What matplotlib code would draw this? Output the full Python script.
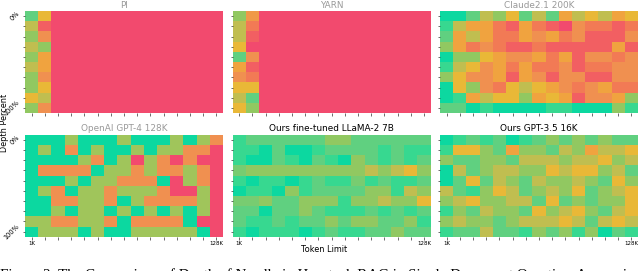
import numpy as np
from matplotlib import pyplot as plt
from matplotlib.colors import LinearSegmentedColormap

# score de cada celda (0 rojo ... 10 verde azulado), filas = profundidad, columnas = tokens
pi_tail = [0] * 13
pi_scores = [
    [8, 5] + pi_tail,
    [6, 1] + pi_tail,
    [7, 3] + pi_tail,
    [6, 7] + pi_tail,
    [7, 4] + pi_tail,
    [6, 4] + pi_tail,
    [7, 3] + pi_tail,
    [7, 5] + pi_tail,
    [5, 6] + pi_tail,
    [7, 3] + pi_tail,
]
yarn_scores = [
    [7, 3.5] + pi_tail,
    [6, 2] + pi_tail,
    [6, 1] + pi_tail,
    [5, 0] + pi_tail,
    [8, 3] + pi_tail,
    [4, 1] + pi_tail,
    [3, 2] + pi_tail,
    [5, 5] + pi_tail,
    [6, 8] + pi_tail,
    [5, 7] + pi_tail,
]
claude_scores = [
    [10, 10, 8, 6, 7, 5, 8, 6, 8, 4, 6, 5, 6, 4, 5],
    [9, 6, 4, 4, 2, 1, 4, 2, 1, 0, 3, 2, 2, 1, 2],
    [8, 4, 6, 4, 2, 2, 4, 3, 4, 2, 3, 1, 1, 1, 3],
    [7, 4, 2, 3, 2, 1, 1, 2, 1, 1, 1, 1, 1, 4, 1],
    [10, 7, 7, 5, 4, 3, 3, 4, 2, 4, 1, 3, 3, 2, 3],
    [9, 6, 5, 3, 4, 2, 4, 2, 2, 3, 1, 2, 2, 3, 3],
    [7, 5, 3, 3, 4, 1, 4, 3, 1, 3, 3, 1, 1, 3, 3],
    [10, 5, 7, 3, 2, 5, 6, 5, 4, 3, 2, 3, 4, 2, 2],
    [10, 9, 4, 6, 5, 5, 7, 4, 5, 4, 1, 3, 3, 4, 7],
    [8, 8, 10, 9, 10, 10, 10, 10, 9, 9, 10, 10, 10, 7, 9],
]
gpt4_scores = [
    [10, 10, 10, 6.7, 10, 10, 10, 6.7, 10, 10, 10, 6.7, 10, 6.7, 3],
    [10, 6.7, 10, 3, 10, 6.7, 10, 10, 6.7, 10, 6.7, 6.7, 3, 3, 0],
    [10, 10, 10, 10, 6.7, 3, 10, 6.7, 0, 6.7, 3, 0, 3, 0, 0],
    [10, 3, 3, 3, 3, 10, 6.7, 6.7, 3, 6.7, 3, 3, 6.7, 3, 0],
    [10, 10, 10, 6.7, 10, 6.7, 6.7, 3, 3, 3, 10, 0, 6.7, 3, 0],
    [10, 6.7, 3, 10, 6.7, 6.7, 3, 6.7, 6.7, 6.7, 3, 0, 0, 6.7, 0],
    [10, 10, 3, 3, 6.7, 6.7, 3, 10, 6.7, 3, 3, 3, 3, 6.7, 0],
    [10, 10, 6.7, 10, 6.7, 6.7, 10, 6.7, 10, 6.7, 10, 6.7, 10, 6.7, 0],
    [6.7, 6.7, 3, 3, 6.7, 6.7, 3, 10, 3, 3, 3, 3, 10, 0, 0],
    [10, 6.7, 6.7, 6.7, 10, 6.7, 10, 10, 6.7, 6.7, 6.7, 6.7, 6.7, 10, 0],
]
llama_scores = [
    [9, 8, 8, 8, 8, 8, 8, 7, 7, 8, 8, 8, 8, 8, 8],
    [9, 9, 10, 8, 10, 10, 9, 8, 8, 8, 8, 9, 8, 9, 9],
    [9, 10, 10, 8, 9, 10, 8, 9, 10, 7, 8, 9, 8, 9, 8],
    [7.5, 7, 7, 7, 7, 7, 7, 7, 7, 7, 6, 7, 6, 5, 7],
    [9, 10, 9, 9, 10, 9, 8, 9, 9, 7.5, 9, 8, 9, 9, 8],
    [10, 9, 9, 10, 7, 9, 8, 8, 8, 8, 7, 7, 9, 6, 7],
    [7.5, 7.5, 7, 8, 8, 7, 7, 7, 9, 7, 7, 6, 7, 7, 5],
    [8, 8, 10, 8, 8, 7, 8, 9, 9, 9, 8, 9, 8, 9, 8],
    [8, 9, 9, 8, 9, 8, 8, 7, 8, 7, 7, 8, 8, 7, 9],
    [9, 10, 9, 9, 9, 10, 9, 8, 9, 9, 8, 8, 7, 8, 8],
]
gpt35_scores = [
    [10, 9, 8, 9, 8, 10, 9, 8, 7, 8, 7, 8, 7, 8, 8],
    [9, 5, 5, 7, 8, 4, 7, 7, 8, 6, 7, 4, 6, 6, 5],
    [7, 8, 8, 7, 7, 8, 6, 6, 6, 7, 6, 6, 5, 7, 6],
    [10, 6, 8, 7, 6, 6, 7, 7, 5, 6, 5, 5, 7, 6, 8],
    [10, 8, 5, 8, 6, 7, 8, 6, 7, 7, 6, 7, 8, 5, 7],
    [6, 8, 9, 7, 5, 6, 8, 7, 6, 7, 5, 8, 7, 6, 5],
    [7, 6, 5, 7, 7, 6, 6, 8, 5, 8, 7, 8, 7, 7, 5],
    [9, 7, 8, 6, 7, 7, 8, 5, 7, 6, 5, 7, 8, 6, 5],
    [7, 6, 7, 7, 8, 7, 6, 6, 6, 5, 6, 8, 6, 5, 6],
    [9, 8, 8, 6, 8, 8, 9, 7, 8, 7, 9, 7, 10, 8, 9],
]

titulos = ["PI", "YARN", "Claude2.1 200K", "OpenAI GPT-4 128K",
           "Ours fine-tuned LLaMA-2 7B", "Ours GPT-3.5 16K"]
paneles = [pi_scores, yarn_scores, claude_scores, gpt4_scores, llama_scores, gpt35_scores]
colores_titulo = ["#999999", "#999999", "#999999", "#999999", "black", "black"]
depth_labels = ["0%", "100%"]
token_labels = ["1K", "128K"]
colores = ["#F24A6E", "#F25F62", "#F27A55", "#F09050", "#F0A33F", "#EAB836",
           "#C0BE50", "#92C860", "#60D080", "#38D890", "#0CD8A0"]
caption = ("Figure 3: The Comparison of Depth of Needle in Haystack RAG in "
           "Single Document Question-Answering")

W, H = 640, 271
cmap = LinearSegmentedColormap.from_list("needle", colores)
fig = plt.figure(figsize=(W / 100, H / 100), dpi=100)

# izquierda y arriba de cada panel, en pixeles
xs = [25, 232.5, 440]
ys = [11, 134.7]
ancho, alto = 198, 102

for i, datos in enumerate(paneles):
    fila, col = i // 3, i % 3
    ax = fig.add_axes([xs[col] / W, 1 - (ys[fila] + alto) / H, ancho / W, alto / H])
    ax.pcolormesh(np.array(datos), cmap=cmap, vmin=0, vmax=10)
    ax.invert_yaxis()
    ax.set_title(titulos[i], fontsize=6.4, color=colores_titulo[i], pad=2.5)
    ax.set_xticks(np.arange(15) + 0.5)
    ax.set_yticks(np.arange(10) + 0.5)
    ax.tick_params(length=1.8, width=0.5, color="#333333", labelsize=4, pad=1.5)
    for s in ax.spines.values():
        s.set_visible(False)
    xl = [""] * 15
    yl = [""] * 10
    if fila == 1:
        xl[0], xl[14] = token_labels
    if col == 0:
        yl[0], yl[9] = depth_labels
    ax.set_xticklabels(xl)
    ax.set_yticklabels(yl, rotation=45, va="center", fontsize=4.8)

fig.text(4.5 / W, 1 - 123 / H, "Depth Percent", rotation=90, fontsize=5.9, ha="center", va="center")
fig.text(324 / W, 1 - 250 / H, "Token Limit", fontsize=5.9, ha="center", va="center")
fig.text(0, 1 - 268.5 / H, caption, fontsize=10.8, family="Liberation Serif", va="top")

fig.savefig("out.png", dpi=100)
